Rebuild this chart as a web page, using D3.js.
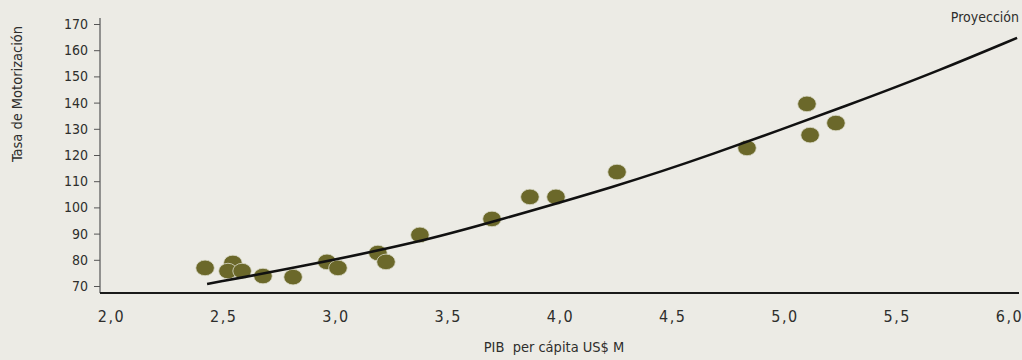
<!DOCTYPE html>
<html><head><meta charset="utf-8">
<script src="https://cdn.jsdelivr.net/npm/d3@7"></script>
<style>
html,body{margin:0;padding:0;background:#ecebe5;}
svg{display:block;}
text{font-family:"DejaVu Sans Condensed","DejaVu Sans",sans-serif;fill:#2e2e2c;}
</style></head>
<body>
<svg id="chart" width="1022" height="360"></svg>
<script>
// Observed data points (PIB per cápita US$ M, Tasa de Motorización)
const pib = [2.419, 2.543, 2.521, 2.584, 2.677, 2.811, 2.962, 3.011, 3.189, 3.225, 3.376, 3.697, 3.866, 3.982, 4.254, 4.833, 5.100, 5.114, 5.229];
const tasa = [76.9, 78.8, 75.7, 75.7, 73.8, 73.4, 79.2, 76.9, 82.6, 79.2, 89.5, 95.6, 104.0, 104.0, 113.5, 122.7, 139.5, 127.6, 132.2];
// Projection curve
const projX = [2.428, 2.842, 3.376, 3.697, 4.267, 4.624, 5.336, 5.693, 6.036];
const projY = [70.8, 77.3, 86.8, 94.4, 108.5, 118.5, 140.6, 152.4, 164.7];
const yTicks = [70, 80, 90, 100, 110, 120, 130, 140, 150, 160, 170];
const xTicks = [2.0, 2.5, 3.0, 3.5, 4.0, 4.5, 5.0, 5.5, 6.0];
const xTitle = "PIB  per cápita US$ M";
const yTitle = "Tasa de Motorización";
const projLabel = "Proyección";

const svg = d3.select("#chart");
const x = d3.scaleLinear().domain([2, 6]).range([111, 1009]);
const y = d3.scaleLinear().domain([70, 170]).range([286, 24]);
const FONT = '"DejaVu Sans Condensed","DejaVu Sans",sans-serif';

// Y axis
const yAxis = d3.axisLeft(y).tickValues(yTicks).tickSize(6).tickPadding(6).tickFormat(d3.format("d"));
const gy = svg.append("g").attr("transform", "translate(100,0)").call(yAxis);
gy.select(".domain").remove();
gy.selectAll(".tick line").attr("stroke", "#555");
gy.selectAll(".tick text").style("font-size", "14px").attr("fill", "#2e2e2c").style("font-family", FONT);
svg.append("line").attr("x1", 100).attr("x2", 100).attr("y1", 18).attr("y2", 293)
  .attr("stroke", "#555").attr("stroke-width", 1.2);

// X axis (labels only, thick baseline)
const fmt = d => d3.format(".1f")(d).replace(".", ",");
const xAxis = d3.axisBottom(x).tickValues(xTicks).tickSize(0).tickPadding(0).tickFormat(fmt);
const gx = svg.append("g").attr("transform", "translate(0,293)").call(xAxis);
gx.select(".domain").remove();
gx.selectAll(".tick text").attr("dy", null).attr("y", 29)
  .style("font-size", "16px").style("letter-spacing", "1.5px").attr("fill", "#2e2e2c")
  .style("font-family", FONT);
svg.append("line").attr("x1", 100).attr("x2", 1019).attr("y1", 293).attr("y2", 293)
  .attr("stroke", "#1a1a1a").attr("stroke-width", 2.2);

// Titles
svg.append("text").attr("x", 554).attr("y", 352).attr("text-anchor", "middle")
  .style("font-size", "14.5px").style("white-space", "pre").text(xTitle);
svg.append("text").attr("transform", "translate(22,94) rotate(-90)").attr("text-anchor", "middle")
  .style("font-size", "14.5px").text(yTitle);

// Dots
svg.append("g").selectAll("ellipse").data(pib.map((v, i) => [v, tasa[i]])).join("ellipse")
  .attr("cx", d => x(d[0])).attr("cy", d => y(d[1]))
  .attr("rx", 9.3).attr("ry", 7.8)
  .attr("fill", "#6b682a").attr("stroke", "#dcdccb").attr("stroke-width", 0.8);

// Projection curve
const line = d3.line().x(d => x(d[0])).y(d => y(d[1])).curve(d3.curveBasis);
svg.append("path").datum(projX.map((v, i) => [v, projY[i]]))
  .attr("d", line).attr("fill", "none").attr("stroke", "#111").attr("stroke-width", 2.6);

svg.append("text").attr("x", 1019).attr("y", 22).attr("text-anchor", "end")
  .style("font-size", "14px").text(projLabel);
</script>
</body></html>
